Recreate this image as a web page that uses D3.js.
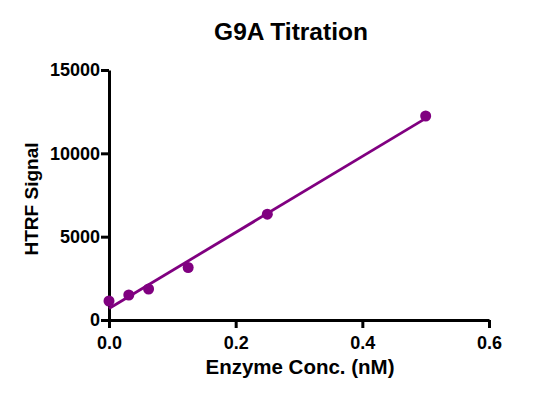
<!DOCTYPE html>
<html>
<head>
<meta charset="utf-8">
<script src="https://cdn.jsdelivr.net/npm/d3@7"></script>
<style>
  body { margin: 0; background: #fff; }
  text { font-family: "Liberation Sans", Arial, sans-serif; font-weight: bold; }
</style>
</head>
<body>
<script>
const width = 548;
const height = 398;

// data
const conc = [0, 0.03125, 0.0625, 0.125, 0.25, 0.5];
const signal = [1140, 1500, 1860, 3150, 6350, 12240];
const xTicks = [0, 0.2, 0.4, 0.6];
const yTicks = [0, 5000, 10000, 15000];

const margin = {top: 70, left: 109, right: 59, bottom: 78};

const x = d3.scaleLinear().domain([0, 0.6]).range([margin.left, width - margin.right]);
const y = d3.scaleLinear().domain([0, 15000]).range([height - margin.bottom, margin.top]);

const svg = d3.select("body").append("svg")
  .attr("width", width)
  .attr("height", height);

// axes
const xAxis = svg.append("g")
  .attr("transform", "translate(0," + y(0) + ")")
  .call(d3.axisBottom(x).tickValues(xTicks).tickFormat(d3.format(".1f")).tickSize(8).tickPadding(8).tickSizeOuter(0));

const yAxis = svg.append("g")
  .attr("transform", "translate(" + x(0) + ",0)")
  .call(d3.axisLeft(y).tickValues(yTicks).tickFormat(d3.format("d")).tickSize(8).tickPadding(1).tickSizeOuter(0));

[xAxis, yAxis].forEach(function(g) {
  g.select(".domain").attr("stroke", "#000").attr("stroke-width", 3);
  g.selectAll(".tick line").attr("stroke", "#000").attr("stroke-width", 3);
  g.selectAll(".tick text").attr("fill", "#000").style("font-size", "18px").style("font-family", "Liberation Sans, Arial, sans-serif").style("font-weight", "bold");
});

// linear fit
var mx = d3.mean(conc), my = d3.mean(signal);
var sxy = d3.sum(conc, function(c, i) { return (c - mx) * (signal[i] - my); });
var sxx = d3.sum(conc, function(c) { return (c - mx) * (c - mx); });
var slope = sxy / sxx;
var icpt = my - slope * mx;
var fitX = [d3.min(conc), d3.max(conc)];

svg.append("line")
  .attr("x1", x(fitX[0])).attr("y1", y(icpt + slope * fitX[0]))
  .attr("x2", x(fitX[1])).attr("y2", y(icpt + slope * fitX[1]))
  .attr("stroke", "#800080")
  .attr("stroke-width", 2.8);

svg.selectAll("circle")
  .data(conc)
  .enter().append("circle")
  .attr("cx", function(d) { return x(d); })
  .attr("cy", function(d, i) { return y(signal[i]); })
  .attr("r", 5.5)
  .attr("fill", "#800080");

// title + labels
svg.append("text")
  .attr("x", 291).attr("y", 40)
  .attr("text-anchor", "middle")
  .style("font-size", "24.5px")
  .text("G9A Titration");

svg.append("text")
  .attr("x", 300).attr("y", 374)
  .attr("text-anchor", "middle")
  .style("font-size", "20.5px")
  .text("Enzyme Conc. (nM)");

svg.append("text")
  .attr("transform", "translate(38,199) rotate(-90)")
  .attr("text-anchor", "middle")
  .style("font-size", "19px")
  .text("HTRF Signal");
</script>
</body>
</html>
